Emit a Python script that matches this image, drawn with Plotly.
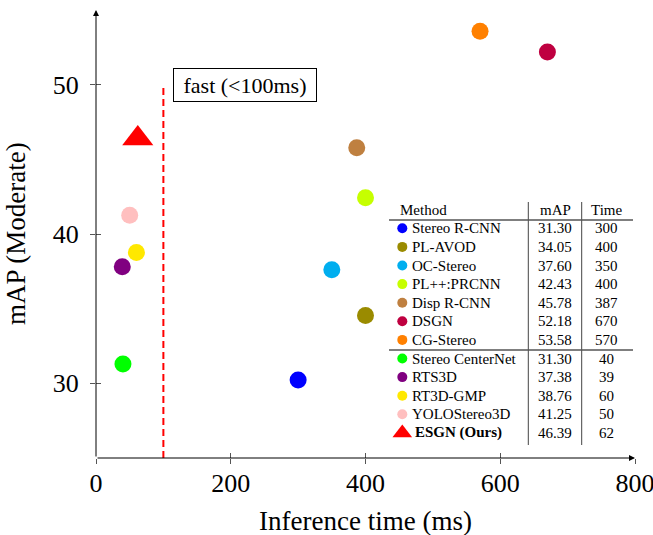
import plotly.graph_objects as go

# ---------------- data ----------------
methods = ["Stereo R-CNN", "PL-AVOD", "OC-Stereo", "PL++:PRCNN", "Disp R-CNN", "DSGN",
           "CG-Stereo", "Stereo CenterNet", "RTS3D", "RT3D-GMP", "YOLOStereo3D", "ESGN (Ours)"]
table_map = ["31.30", "34.05", "37.60", "42.43", "45.78", "52.18", "53.58",
             "31.30", "37.38", "38.76", "41.25", "46.39"]
table_time = ["300", "400", "350", "400", "387", "670", "570", "40", "39", "60", "50", "62"]
# positions as plotted in the figure
plot_time = [300, 400, 350, 400, 387, 670, 570, 40, 39, 60, 50, 62]
plot_map = [30.22, 34.55, 37.60, 42.43, 45.78, 52.18, 53.58, 31.30, 37.80, 38.76, 41.25, 46.39]
x_ticks = [0, 200, 400, 600, 800]
y_ticks = [30, 40, 50]
fast_threshold = 100
fast_label = "fast (&lt;100ms)"
x_title = "Inference time (ms)"
y_title = "mAP (Moderate)"
table_header = ["Method", "mAP", "Time"]

# ---------------- styles ----------------
colors = ["#0000ff", "#9a8b00", "#00aeef", "#c6ff00", "#bf8040", "#bf0040",
          "#ff8000", "#00ff00", "#800080", "#ffe800", "#ffbfbf", "#ff0000"]
symbols = ["circle"] * 11 + ["triangle-up"]
plot_sizes = [17] * 11 + [27]
table_sizes = [10] * 11 + [17]
FONT = "Liberation Serif"

W, H = 653, 535
L, R, T, B = 96, 18, 10, 77
PW, PH = W - L - R, H - T - B
X_RANGE = [0, 800]
Y_RANGE = [25, 55]


def px_to_paper_x(px):
    return (px - L) / PW


def px_to_paper_y(py):
    return (T + PH - py) / PH


fig = go.Figure()

# main scatter
fig.add_trace(go.Scatter(
    x=plot_time, y=plot_map, mode="markers",
    marker=dict(color=colors, symbol=symbols, size=plot_sizes, opacity=1, line=dict(width=0)),
    text=methods, showlegend=False, hoverinfo="text+x+y", cliponaxis=False))

# overlay subplot for inner tick marks
fig.add_trace(go.Scatter(x=[], y=[], xaxis="x2", yaxis="y2", showlegend=False, hoverinfo="skip"))

# table: row 0 is header, rows 1..12 methods
rows = [i + 1 for i in range(len(methods))]
TAB_X0, TAB_X1 = 389, 633          # pixel extent of table
TAB_Y0, TAB_Y1 = 202, 445
ROW0_PX, ROW_H = 209.7, 18.6
row_top = (TAB_Y0 - ROW0_PX) / ROW_H
row_bot = (TAB_Y1 - ROW0_PX) / ROW_H
MARK_X, NAME_X, MAP_X, TIME_X = 402.3, 410, 555, 606.7
VLINE1, VLINE2 = 528.3, 581.7
HLINE1 = (220 - ROW0_PX) / ROW_H
HLINE2 = (350 - ROW0_PX) / ROW_H

fig.add_trace(go.Scatter(
    x=[MARK_X] * len(methods), y=rows, mode="markers", xaxis="x3", yaxis="y3",
    marker=dict(color=colors, symbol=symbols, size=table_sizes, opacity=1, line=dict(width=0)),
    showlegend=False, hoverinfo="skip", cliponaxis=False))

annotations = []
tab_font = dict(family=FONT, size=15, color="black")
annotations.append(dict(x=398, y=0, xref="x3", yref="y3", text=table_header[0], showarrow=False,
                        xanchor="left", yanchor="middle", font=tab_font))
annotations.append(dict(x=MAP_X, y=0, xref="x3", yref="y3", text=table_header[1], showarrow=False,
                        xanchor="center", yanchor="middle", font=tab_font))
annotations.append(dict(x=TIME_X, y=0, xref="x3", yref="y3", text=table_header[2], showarrow=False,
                        xanchor="center", yanchor="middle", font=tab_font))
for i, m in enumerate(methods):
    name = "<b>" + m + "</b>" if i == len(methods) - 1 else m
    nx = NAME_X + (3 if i == len(methods) - 1 else 0)
    annotations.append(dict(x=nx, y=rows[i], xref="x3", yref="y3", text=name, showarrow=False,
                            xanchor="left", yanchor="middle", font=tab_font))
    annotations.append(dict(x=MAP_X, y=rows[i], xref="x3", yref="y3", text=table_map[i], showarrow=False,
                            xanchor="center", yanchor="middle", font=tab_font))
    annotations.append(dict(x=TIME_X, y=rows[i], xref="x3", yref="y3", text=table_time[i], showarrow=False,
                            xanchor="center", yanchor="middle", font=tab_font))

# axis arrows
annotations.append(dict(x=X_RANGE[1], y=Y_RANGE[0], ax=X_RANGE[0], ay=Y_RANGE[0], xref="x", yref="y",
                        axref="x", ayref="y", text="", showarrow=True, arrowhead=2, arrowsize=1.2,
                        arrowwidth=1, arrowcolor="black", standoff=0))
annotations.append(dict(x=X_RANGE[0], y=Y_RANGE[1], ax=X_RANGE[0], ay=Y_RANGE[0], xref="x", yref="y",
                        axref="x", ayref="y", text="", showarrow=True, arrowhead=2, arrowsize=1.2,
                        arrowwidth=1, arrowcolor="black", standoff=0))

# fast label
annotations.append(dict(x=113.7, y=50, xref="x", yref="y", text=fast_label, showarrow=False,
                        xanchor="left", yanchor="middle", bordercolor="black", borderwidth=1,
                        borderpad=2, width=138, height=28, bgcolor="white",
                        font=dict(family=FONT, size=22, color="black")))

# axis titles
annotations.append(dict(x=0.5, y=px_to_paper_y(521), xref="paper", yref="paper", text=x_title,
                        showarrow=False, xanchor="center", yanchor="middle",
                        font=dict(family=FONT, size=27, color="black")))
annotations.append(dict(x=px_to_paper_x(16), y=0.5, xref="paper", yref="paper", text=y_title,
                        showarrow=False, xanchor="center", yanchor="middle", textangle=-90,
                        font=dict(family=FONT, size=27, color="black")))

shapes = [
    dict(type="line", xref="x", yref="y", x0=fast_threshold, x1=fast_threshold, y0=Y_RANGE[0], y1=50,
         line=dict(color="#ff0000", width=2, dash="7px,4px")),
    dict(type="line", xref="x3", yref="y3", x0=VLINE1, x1=VLINE1, y0=row_top, y1=row_bot,
         line=dict(color="#444", width=1)),
    dict(type="line", xref="x3", yref="y3", x0=VLINE2, x1=VLINE2, y0=row_top, y1=row_bot,
         line=dict(color="#444", width=1)),
    dict(type="line", xref="x3", yref="y3", x0=TAB_X0, x1=TAB_X1, y0=HLINE1, y1=HLINE1,
         line=dict(color="#555", width=1.3)),
    dict(type="line", xref="x3", yref="y3", x0=TAB_X0, x1=TAB_X1, y0=HLINE2, y1=HLINE2,
         line=dict(color="#555", width=1.3)),
]

tick_font = dict(family=FONT, size=26, color="black")
fig.update_layout(
    width=W, height=H,
    margin=dict(l=L, r=R, t=T, b=B),
    paper_bgcolor="white", plot_bgcolor="white",
    showlegend=False,
    xaxis=dict(range=X_RANGE, tickvals=x_ticks, ticks="outside", ticklen=5, tickwidth=1,
               tickcolor="#555", tickfont=tick_font, showgrid=False, zeroline=False,
               showline=False, ticklabelstandoff=-3, ticklabeloverflow="allow", domain=[0, 1],
               automargin=False),
    yaxis=dict(range=Y_RANGE, tickvals=y_ticks, ticks="outside", ticklen=5, tickwidth=1,
               tickcolor="#555", tickfont=tick_font, showgrid=False, zeroline=False,
               showline=False, ticklabelstandoff=6, ticklabeloverflow="allow", domain=[0, 1],
               automargin=False),
    xaxis2=dict(range=X_RANGE, tickvals=x_ticks, overlaying="x", anchor="y2", ticks="inside",
                ticklen=5, tickwidth=1, tickcolor="#555", showticklabels=False,
                showgrid=False, zeroline=False, showline=False, automargin=False),
    yaxis2=dict(range=Y_RANGE, tickvals=y_ticks, overlaying="y", anchor="x2", ticks="inside",
                ticklen=5, tickwidth=1, tickcolor="#555", showticklabels=False,
                showgrid=False, zeroline=False, showline=False, automargin=False),
    xaxis3=dict(range=[TAB_X0, TAB_X1], domain=[px_to_paper_x(TAB_X0), px_to_paper_x(TAB_X1)],
                anchor="y3", visible=False, automargin=False),
    yaxis3=dict(range=[row_bot, row_top], domain=[px_to_paper_y(TAB_Y1), px_to_paper_y(TAB_Y0)],
                anchor="x3", visible=False, automargin=False),
    annotations=annotations,
    shapes=shapes,
)

fig.write_html("out.html", config={"displayModeBar": False},
               post_script="document.body.style.margin='0px';document.body.style.overflow='hidden';")
